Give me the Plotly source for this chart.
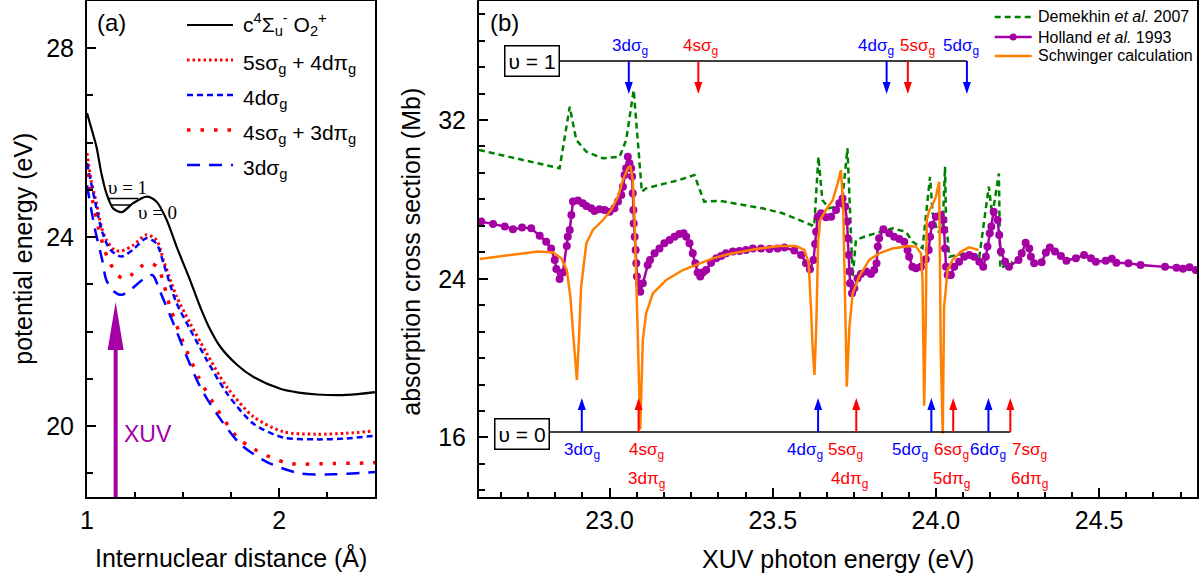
import plotly.graph_objects as go

# ---------------- data: panel (a) potential curves ----------------
r_c4 = [1.00, 1.03, 1.049, 1.075, 1.101, 1.136, 1.18, 1.24, 1.31, 1.362, 1.415, 1.466, 1.536, 1.589, 1.64, 1.693, 1.78, 1.866, 2.005, 2.10, 2.196, 2.35, 2.5]
E_c4 = [26.63, 26.2, 25.92, 25.35, 24.93, 24.61, 24.53, 24.72, 24.86, 24.75, 24.36, 23.8, 23.09, 22.52, 22.05, 21.68, 21.3, 21.04, 20.79, 20.71, 20.67, 20.66, 20.72]

r_5s = [1.0, 1.021, 1.049, 1.075, 1.101, 1.143, 1.18, 1.24, 1.31, 1.362, 1.397, 1.44, 1.466, 1.536, 1.623, 1.727, 1.866, 2.022, 2.196, 2.35, 2.49]
E_5s = [25.78, 25.21, 24.72, 24.22, 23.94, 23.73, 23.71, 23.83, 24.05, 23.94, 23.52, 23.02, 22.74, 22.18, 21.54, 20.83, 20.2, 19.88, 19.83, 19.85, 19.9]

r_4d = [1.0, 1.04, 1.08, 1.12, 1.18, 1.24, 1.31, 1.36, 1.40, 1.44, 1.466, 1.536, 1.623, 1.727, 1.866, 2.02, 2.196, 2.35, 2.5]
E_4d = [25.57, 24.79, 24.1, 23.74, 23.59, 23.74, 23.98, 23.87, 23.42, 22.9, 22.6, 22.05, 21.4, 20.7, 20.05, 19.76, 19.72, 19.74, 19.8]

r_4s = [1.0, 1.03, 1.06, 1.09, 1.12, 1.16, 1.19, 1.23, 1.28, 1.33, 1.37, 1.40, 1.432, 1.50, 1.58, 1.658, 1.78, 1.866, 2.04, 2.28, 2.45, 2.5]
E_4s = [25.35, 24.75, 24.2, 23.75, 23.45, 23.2, 23.12, 23.2, 23.38, 23.45, 23.35, 23.0, 22.52, 21.78, 21.04, 20.48, 19.77, 19.52, 19.22, 19.21, 19.22, 19.23]

r_3d = [1.0, 1.04, 1.08, 1.10, 1.14, 1.18, 1.23, 1.29, 1.34, 1.38, 1.45, 1.519, 1.589, 1.675, 1.797, 1.936, 2.109, 2.28, 2.5]
E_3d = [25.1, 24.2, 23.5, 23.1, 22.85, 22.78, 22.9, 23.1, 23.2, 22.85, 22.17, 21.47, 20.83, 20.26, 19.62, 19.24, 19.0, 18.98, 19.03]

# vibrational levels of c4Sigma_u- (r range, energy)
vib_r = [[1.106, 1.267], [1.128, 1.233]]
vib_E = [24.82, 24.68]
vib_labels = ["υ = 1", "υ = 0"]

legend_a = ["c<sup>4</sup>Σ<sub>u</sub><sup>-</sup> O<sub>2</sub><sup>+</sup>",
            "5sσ<sub>g</sub> + 4dπ<sub>g</sub>",
            "4dσ<sub>g</sub>",
            "4sσ<sub>g</sub> + 3dπ<sub>g</sub>",
            "3dσ<sub>g</sub>"]

xuv_r = 1.149
xuv_tip_E = 22.63

# ---------------- data: panel (b) cross sections ----------------
dem_E = [22.600, 22.847, 22.878, 22.898, 22.929, 22.980, 23.031, 23.051, 23.074, 23.087, 23.099, 23.112, 23.214, 23.260, 23.290, 23.337, 23.469, 23.530, 23.627, 23.640, 23.652, 23.673, 23.712, 23.729, 23.745, 23.755, 23.786, 23.867, 23.908, 23.928, 23.959, 23.982, 23.990, 24.005, 24.020, 24.028, 24.031, 24.041, 24.092, 24.133, 24.162, 24.173, 24.193, 24.197, 24.235]
dem_S = [30.49, 29.57, 32.67, 31.0, 30.4, 30.07, 30.15, 31.0, 33.51, 30.66, 28.39, 28.56, 28.98, 29.23, 27.88, 27.93, 27.55, 27.3, 26.65, 30.15, 27.97, 27.55, 27.75, 30.58, 24.1, 25.95, 26.15, 26.54, 26.37, 25.87, 25.54, 29.14, 27.3, 26.37, 26.37, 29.65, 26.96, 25.11, 25.28, 25.11, 28.64, 27.2, 29.31, 24.52, 24.85]

hol_E = [22.607, 22.643, 22.679, 22.704, 22.732, 22.760, 22.786, 22.806, 22.821, 22.832, 22.837, 22.847, 22.857, 22.869, 22.872, 22.878, 22.883, 22.888, 22.903, 22.918, 22.929, 22.944, 22.954, 22.969, 22.985, 23.000, 23.015, 23.026, 23.036, 23.041, 23.046, 23.051, 23.056, 23.061, 23.066, 23.069, 23.071, 23.073, 23.074, 23.077, 23.080, 23.082, 23.084, 23.090, 23.094, 23.102, 23.117, 23.124, 23.138, 23.153, 23.168, 23.184, 23.199, 23.214, 23.227, 23.235, 23.245, 23.255, 23.263, 23.270, 23.278, 23.286, 23.296, 23.311, 23.327, 23.342, 23.357, 23.378, 23.398, 23.418, 23.439, 23.464, 23.490, 23.515, 23.536, 23.566, 23.587, 23.602, 23.614, 23.625, 23.630, 23.633, 23.638, 23.648, 23.663, 23.679, 23.694, 23.704, 23.714, 23.722, 23.728, 23.730, 23.733, 23.735, 23.737, 23.743, 23.750, 23.760, 23.770, 23.786, 23.801, 23.811, 23.818, 23.822, 23.826, 23.839, 23.857, 23.872, 23.888, 23.903, 23.913, 23.918, 23.928, 23.939, 23.954, 23.969, 23.978, 23.982, 23.988, 24.000, 24.015, 24.022, 24.025, 24.028, 24.031, 24.036, 24.046, 24.056, 24.071, 24.087, 24.102, 24.117, 24.133, 24.145, 24.153, 24.158, 24.165, 24.170, 24.177, 24.189, 24.194, 24.199, 24.212, 24.224, 24.253, 24.263, 24.275, 24.286, 24.291, 24.301, 24.324, 24.337, 24.349, 24.365, 24.383, 24.400, 24.429, 24.454, 24.475, 24.490, 24.520, 24.539, 24.553, 24.590, 24.627, 24.702, 24.737, 24.757, 24.777, 24.796]
hol_S = [26.88, 26.76, 26.63, 26.49, 26.58, 26.54, 26.17, 25.87, 25.53, 24.95, 24.49, 23.99, 24.31, 25.65, 26.12, 26.46, 27.21, 27.89, 27.94, 27.80, 27.67, 27.55, 27.42, 27.50, 27.47, 27.38, 27.55, 27.89, 28.22, 28.64, 29.23, 29.57, 30.15, 29.82, 29.57, 29.15, 28.31, 27.47, 26.79, 26.12, 25.45, 24.78, 24.11, 23.74, 23.35, 23.77, 24.69, 24.95, 25.28, 25.53, 25.79, 25.95, 26.12, 26.26, 26.29, 26.12, 25.79, 25.28, 24.78, 24.31, 24.11, 24.31, 24.44, 24.81, 25.03, 25.15, 25.28, 25.37, 25.40, 25.45, 25.53, 25.53, 25.50, 25.53, 25.57, 25.42, 25.20, 24.78, 24.48, 24.95, 25.75, 26.37, 27.13, 27.30, 27.10, 27.13, 27.47, 27.80, 28.05, 27.64, 26.88, 26.04, 25.20, 24.36, 23.77, 23.27, 23.52, 24.02, 24.24, 24.36, 24.24, 24.44, 24.78, 25.62, 26.04, 26.49, 26.29, 26.12, 26.00, 25.87, 25.45, 25.11, 24.61, 24.53, 24.61, 24.98, 25.45, 26.12, 26.71, 27.13, 27.21, 26.96, 26.46, 25.53, 24.61, 24.19, 24.19, 24.61, 24.86, 25.11, 25.20, 25.11, 24.86, 24.61, 25.11, 25.62, 26.29, 26.63, 27.38, 26.96, 26.21, 25.37, 24.86, 24.61, 24.95, 25.28, 25.82, 25.53, 25.11, 24.78, 24.83, 25.32, 25.58, 25.37, 25.15, 24.91, 25.03, 25.20, 25.03, 24.86, 24.91, 25.01, 24.81, 24.78, 24.69, 24.61, 24.56, 24.51, 24.58, 24.44]

sch_E = [22.602, 22.704, 22.781, 22.827, 22.852, 22.869, 22.880, 22.890, 22.900, 22.906, 22.913, 22.929, 22.949, 22.980, 23.005, 23.026, 23.041, 23.056, 23.064, 23.071, 23.076, 23.082, 23.087, 23.094, 23.102, 23.112, 23.133, 23.174, 23.225, 23.276, 23.316, 23.367, 23.449, 23.520, 23.571, 23.597, 23.610, 23.617, 23.622, 23.628, 23.634, 23.639, 23.645, 23.663, 23.684, 23.699, 23.709, 23.716, 23.721, 23.727, 23.735, 23.745, 23.765, 23.796, 23.826, 23.867, 23.918, 23.939, 23.954, 23.959, 23.964, 23.969, 23.972, 23.980, 23.990, 24.000, 24.010, 24.013, 24.015, 24.021, 24.025, 24.036, 24.051, 24.077, 24.102, 24.130]
sch_S = [25.00, 25.20, 25.37, 25.32, 25.03, 24.44, 23.10, 20.91, 18.90, 20.91, 23.60, 25.79, 26.46, 26.96, 27.47, 28.14, 28.98, 29.57, 29.68, 28.98, 27.30, 23.94, 20.58, 16.40, 20.91, 22.26, 23.27, 23.94, 24.44, 24.78, 25.03, 25.25, 25.50, 25.65, 25.65, 25.45, 24.80, 22.59, 20.58, 19.15, 21.92, 25.80, 26.96, 27.47, 27.97, 28.81, 29.48, 27.63, 23.60, 18.56, 21.59, 23.27, 24.11, 24.95, 25.28, 25.53, 25.65, 25.62, 25.28, 23.94, 17.60, 21.92, 26.96, 27.47, 27.72, 28.14, 28.89, 25.28, 20.24, 16.20, 22.59, 24.44, 24.95, 25.37, 25.58, 25.45]

# Rydberg state assignments (arrows)
v1_states = ["3dσ", "4sσ", "4dσ", "5sσ", "5dσ"]
v1_E = [23.059, 23.272, 23.849, 23.914, 24.095]
v0_states = ["3dσ", "4sσ", "4dσ", "5sσ", "5dσ", "6sσ", "6dσ", "7sσ"]
v0_E = [22.915, 23.089, 23.639, 23.756, 23.986, 24.053, 24.161, 24.228]
v0_pi = {"4sσ": "3dπ", "5sσ": "4dπ", "6sσ": "5dπ", "7sσ": "6dπ"}

# ---------------- layout helpers (pixel -> paper) ----------------
W, H = 1199, 580
ML, MR, MT, MB = 87.3, 1.7, 1.0, 83.0
PW, PH = W - ML - MR, H - MT - MB
def px(x):
    return (x - ML) / PW
def py(y):
    return (H - MB - y) / PH

FONT = "Arial, Liberation Sans, sans-serif"
SERIF = "Times New Roman, Liberation Serif, serif"
BLACK = "#000000"
RED = "#FF0000"
BLUE = "#0000FF"
PURPLE = "#A400A4"
ORANGE = "#FF8000"
GREEN = "#008000"

def text_ann(text, x, y, size, color=BLACK, family=FONT, xanchor="center", yanchor="middle", **kw):
    return dict(text=text, xref="paper", yref="paper", x=px(x), y=py(y), xanchor=xanchor, yanchor=yanchor,
                showarrow=False, font=dict(family=family, size=size, color=color), **kw)

styles_a = [dict(color=BLACK, width=2.2, dash="solid"),
            dict(color=RED, width=3, dash="2.5px,3px"),
            dict(color=BLUE, width=2.5, dash="6px,4px"),
            dict(color=RED, width=3.5, dash="3.5px,10px"),
            dict(color=BLUE, width=2.5, dash="13px,9px")]
curves_a = [(r_c4, E_c4), (r_5s, E_5s), (r_4d, E_4d), (r_4s, E_4s), (r_3d, E_3d)]

fig = go.Figure()
for (rr, ee), st in zip(curves_a, styles_a):
    fig.add_trace(go.Scatter(x=rr, y=ee, mode="lines", line=dict(shape="spline", smoothing=0.8, **st),
                             xaxis="x", yaxis="y", showlegend=False, hoverinfo="skip"))
for rr, ee in zip(vib_r, vib_E):
    fig.add_trace(go.Scatter(x=rr, y=[ee, ee], mode="lines", line=dict(color=BLACK, width=1.5),
                             xaxis="x", yaxis="y", showlegend=False, hoverinfo="skip"))

fig.add_trace(go.Scatter(x=dem_E, y=dem_S, mode="lines", line=dict(color=GREEN, width=2.5, dash="6px,4px"),
                         xaxis="x2", yaxis="y2", showlegend=False))
fig.add_trace(go.Scatter(x=hol_E, y=hol_S, mode="lines+markers", line=dict(color=PURPLE, width=2.5),
                         marker=dict(color=PURPLE, size=8), xaxis="x2", yaxis="y2", showlegend=False))
fig.add_trace(go.Scatter(x=sch_E, y=sch_S, mode="lines", line=dict(color=ORANGE, width=2.5),
                         xaxis="x2", yaxis="y2", showlegend=False))

ax_common = dict(showline=True, linewidth=2, linecolor=BLACK, mirror=True, ticks="inside",
                 ticklen=9, tickwidth=2, tickcolor=BLACK, showgrid=False, zeroline=False,
                 tickfont=dict(family=FONT, size=25, color=BLACK))

shapes = []
ann = []

# legend (a)
rows_a = [25, 60, 95, 130, 165]
for i, (txt, st) in enumerate(zip(legend_a, styles_a)):
    shapes.append(dict(type="line", xref="paper", yref="paper", x0=px(187.3), x1=px(233.3),
                       y0=py(rows_a[i]), y1=py(rows_a[i]), line=st))
    ann.append(text_ann(txt, 241, rows_a[i] + (0 if i == 0 else 4), 21, xanchor="left"))

# vib level labels
ann.append(dict(text=vib_labels[0], xref="x", yref="y", x=1.21, y=25.06, showarrow=False,
                xanchor="center", yanchor="middle", font=dict(family=SERIF, size=19, color=BLACK)))
ann.append(dict(text=vib_labels[1], xref="x", yref="y", x=1.365, y=24.53, showarrow=False,
                xanchor="center", yanchor="middle", font=dict(family=SERIF, size=19, color=BLACK)))

# XUV arrow
tip_px = (xuv_tip_E - 18.5) * PH / (29 - 18.5)
head = 48
shapes.append(dict(type="path", xref="x", yref="y", xsizemode="pixel", ysizemode="pixel",
                   xanchor=xuv_r, yanchor=18.5,
                   path=f"M-2,0 L2,0 L2,{tip_px-head:.1f} L8,{tip_px-head:.1f} L0,{tip_px:.1f} L-8,{tip_px-head:.1f} L-2,{tip_px-head:.1f} Z",
                   fillcolor=PURPLE, line=dict(width=0)))
ann.append(text_ann("XUV", 148.5, 434, 23, color=PURPLE))
ann.append(text_ann("(a)", 112, 22, 24))
ann.append(text_ann("(b)", 505, 22, 24))

# axis titles
ann.append(text_ann("potential energy (eV)", 23, 249, 25, textangle=-90))
ann.append(text_ann("absorption cross section (Mb)", 411, 252, 25, textangle=-90))
ann.append(text_ann("Internuclear distance (Å)", 231.5, 557, 25))
ann.append(text_ann("XUV photon energy (eV)", 838.3, 559, 25))

# legend (b)
rows_b = [17, 37, 56]
leg_b = ["Demekhin <i>et al.</i> 2007", "Holland <i>et al.</i> 1993", "Schwinger calculation"]
leg_b_style = [dict(color=GREEN, width=2.5, dash="6px,4px"), dict(color=PURPLE, width=2.5), dict(color=ORANGE, width=2.5)]
for i in range(3):
    shapes.append(dict(type="line", xref="paper", yref="paper", x0=px(995), x1=px(1032),
                       y0=py(rows_b[i]), y1=py(rows_b[i]), line=leg_b_style[i]))
    ann.append(text_ann(leg_b[i], 1036, rows_b[i], 16, xanchor="left"))
shapes.append(dict(type="circle", xref="paper", yref="paper", x0=px(1010), x1=px(1017),
                   y0=py(40.5), y1=py(33.5), fillcolor=PURPLE, line=dict(width=0)))

# vibrational level lines with arrows, panel (b)
def col(state):
    return BLUE if "d" in state else RED

V1_Y, V0_Y = 61, 432
V1_X0, V0_X0 = 22.844, 22.813
shapes.append(dict(type="line", xref="x2", yref="paper", x0=V1_X0, x1=max(v1_E), y0=py(V1_Y), y1=py(V1_Y),
                   line=dict(color=BLACK, width=1.5)))
shapes.append(dict(type="line", xref="x2", yref="paper", x0=V0_X0, x1=max(v0_E), y0=py(V0_Y), y1=py(V0_Y),
                   line=dict(color=BLACK, width=1.5)))
ann.append(text_ann("υ = 1", 532, 61.5, 21, bordercolor=BLACK, borderwidth=1.5, borderpad=3, bgcolor="white"))
ann.append(text_ann("υ = 0", 522.5, 433.5, 21, bordercolor=BLACK, borderwidth=1.5, borderpad=3, bgcolor="white"))

down = "M-1,0 L1,0 L1,-21 L4,-21 L0,-33 L-4,-21 L-1,-21 Z"
up = "M-1,0 L1,0 L1,22 L4,22 L0,34 L-4,22 L-1,22 Z"
v1_shift = [1.6, 2, -10.4, 9.5, -5.8]
for s, e, sh in zip(v1_states, v1_E, v1_shift):
    shapes.append(dict(type="path", xref="x2", yref="paper", xsizemode="pixel", ysizemode="pixel",
                       xanchor=e, yanchor=py(V1_Y), path=down, fillcolor=col(s), line=dict(width=0)))
    ann.append(dict(text=f"{s}<sub>g</sub>", xref="x2", yref="paper", x=e, xshift=sh, y=py(47),
                    xanchor="center", yanchor="middle",
                    showarrow=False, font=dict(family=FONT, size=17, color=col(s))))
v0_shift = [0, 7.5, -13, -10.5, -21, -2, 0, 19]
v0_pi_shift = {"4sσ": 7.5, "5sσ": -7, "6sσ": -2, "7sσ": 19}
for s, e, sh in zip(v0_states, v0_E, v0_shift):
    shapes.append(dict(type="path", xref="x2", yref="paper", xsizemode="pixel", ysizemode="pixel",
                       xanchor=e, yanchor=py(V0_Y), path=up, fillcolor=col(s), line=dict(width=0)))
    ann.append(dict(text=f"{s}<sub>g</sub>", xref="x2", yref="paper", x=e, xshift=sh, y=py(451),
                    xanchor="center", yanchor="middle",
                    showarrow=False, font=dict(family=FONT, size=17, color=col(s))))
    if s in v0_pi:
        ann.append(dict(text=f"{v0_pi[s]}<sub>g</sub>", xref="x2", yref="paper", x=e, xshift=v0_pi_shift[s],
                        y=py(480), xanchor="center", yanchor="middle",
                        showarrow=False, font=dict(family=FONT, size=17, color=RED)))

fig.update_layout(
    width=W, height=H, margin=dict(l=ML, r=MR, t=MT, b=MB, autoexpand=False),
    paper_bgcolor="white", plot_bgcolor="white", showlegend=False,
    xaxis=dict(domain=[0, px(375.7)], range=[1, 2.5], tickvals=[1, 2], ticktext=["1", "2"],
               minor=dict(ticks="inside", dtick=0.25, tick0=1, ticklen=5, tickwidth=2, tickcolor=BLACK),
               anchor="y", **ax_common),
    yaxis=dict(domain=[0, 1], range=[18.5, 29], tickvals=[20, 24, 28],
               minor=dict(ticks="inside", dtick=1, tick0=20, ticklen=6, tickwidth=2, tickcolor=BLACK),
               anchor="x", ticklabelstandoff=6, **ax_common),
    xaxis2=dict(domain=[px(479.3), 1], range=[22.6, 24.8], tickvals=[23, 23.5, 24, 24.5],
                ticktext=["23.0", "23.5", "24.0", "24.5"],
                minor=dict(ticks="inside", dtick=0.5 / 6, tick0=23, ticklen=5, tickwidth=2, tickcolor=BLACK),
                anchor="y2", **ax_common),
    yaxis2=dict(domain=[0, 1], range=[13, 38], tickvals=[16, 24, 32],
                minor=dict(ticks="inside", dtick=8 / 6, tick0=16, ticklen=6, tickwidth=2, tickcolor=BLACK),
                anchor="x2", ticklabelstandoff=6, **ax_common),
    shapes=shapes, annotations=ann,
)

fig.write_html("out.html", config={"displayModeBar": False},
               post_script="document.body.style.margin='0';document.body.style.overflow='hidden';")
